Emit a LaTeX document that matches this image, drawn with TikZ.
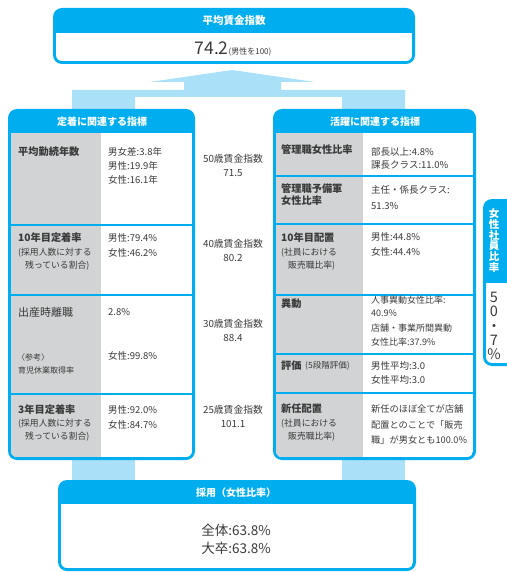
\documentclass[tikz,border=0pt]{standalone}
\usepackage{fontspec}
\setmainfont{Noto Sans CJK JP}
\definecolor{cBlue}{HTML}{00AEEF}
\definecolor{cLight}{HTML}{ABE0F9}
\definecolor{cGray}{HTML}{D1D3D4}
\definecolor{cText}{HTML}{3A3A3A}
\begin{document}
\begin{tikzpicture}[x=1pt,y=-1pt,
  hd/.style={text=white,font=\bfseries\fontsize{10}{12}\selectfont,inner sep=0},
  lbl/.style={text=cText,font=\bfseries\fontsize{10.2}{12}\selectfont,anchor=west,inner sep=0},
  val/.style={text=cText,font=\fontsize{9.5}{11}\selectfont,anchor=west,inner sep=0},
  subt/.style={text=cText,font=\fontsize{8.8}{10}\selectfont,anchor=west,inner sep=0},
  tiny/.style={text=cText,font=\fontsize{8}{9}\selectfont,anchor=west,inner sep=0},
  mid/.style={text=cText,font=\fontsize{9.8}{11}\selectfont,inner sep=0},
  sep/.style={cBlue,line width=2pt},
  outer/.style={fill=cBlue,rounded corners=9}
]
\useasboundingbox (0,0) rectangle (506,572);
% light blue arrows
\fill[cLight] (72,109) -- (72,90) -- (184,90) -- (184,82) -- (150,82) -- (232,70) -- (315,82) -- (281,82) -- (281,90) -- (405,90) -- (405,109) -- (342,109) -- (342,97) -- (135,97) -- (135,109) -- cycle;
\fill[cLight] (72,455) rectangle (135,485);
\fill[cLight] (342,455) rectangle (405,485);

% top box
\path[outer] (53,8) rectangle (415,64);
\begin{scope}
  \clip[rounded corners=6] (56,20) rectangle (412,61);
  \fill[white] (56,33) rectangle (412,61);
\end{scope}
\node[hd,font=\bfseries\fontsize{10.5}{12}\selectfont] (topt) at (234,21) {平均賃金指数};
\node[text=cText,inner sep=0] (topv) at (233,49) {{\fontsize{17.5}{18}\selectfont 74.2}{\fontsize{8}{9}\selectfont (男性を100)}};

% left box
\path[outer] (8,109) rectangle (195,460);
\begin{scope}
  \clip[rounded corners=6] (11,120) rectangle (192,457);
  \fill[white] (11,133) rectangle (192,457);
  \fill[cGray] (11,133) rectangle (101,457);
  \draw[sep] (11,225) -- (192,225);
  \draw[sep] (11,295) -- (192,295);
  \draw[sep] (11,394) -- (192,394);
\end{scope}
\node[hd] (lt) at (102,122) {定着に関連する指標};
\node[lbl] (l1) at (18,152) {平均勤続年数};
\node[val] (l1a) at (108,152) {男女差:3.8年};
\node[val] (l1b) at (108,166) {男性:19.9年};
\node[val] (l1c) at (108,180) {女性:16.1年};
\node[lbl] (l2) at (18,238) {10年目定着率};
\node[subt] (l2s) at (18,253) {(採用人数に対する};
\node[subt] (l2t) at (25,266) {残っている割合)};
\node[val] (l2a) at (108,238) {男性:79.4\%};
\node[val] (l2b) at (108,253) {女性:46.2\%};
\node[lbl,font=\fontsize{11}{12}\selectfont] (l3) at (18,312) {出産時離職};
\node[val] (l3a) at (108,312) {2.8\%};
\node[tiny] (l3s) at (17,357) {〈参考〉};
\node[tiny] (l3t) at (18,370) {育児休業取得率};
\node[val] (l3b) at (108,356) {女性:99.8\%};
\node[lbl] (l4) at (18,410) {3年目定着率};
\node[subt] (l4s) at (18,424) {(採用人数に対する};
\node[subt] (l4t) at (25,437) {残っている割合)};
\node[val] (l4a) at (108,410) {男性:92.0\%};
\node[val] (l4b) at (108,425) {女性:84.7\%};

% middle
\node[mid] (m1) at (233,159) {50歳賃金指数};
\node[mid] (m1v) at (233,173) {71.5};
\node[mid] (m2) at (233,244) {40歳賃金指数};
\node[mid] (m2v) at (233,258) {80.2};
\node[mid] (m3) at (233,324) {30歳賃金指数};
\node[mid] (m3v) at (233,338) {88.4};
\node[mid] (m4) at (233,410) {25歳賃金指数};
\node[mid] (m4v) at (233,424) {101.1};

% right box
\path[outer] (273,109) rectangle (476,460);
\begin{scope}
  \clip[rounded corners=6] (276,120) rectangle (473,457);
  \fill[white] (276,133) rectangle (473,457);
  \fill[cGray] (276,133) rectangle (363,457);
  \draw[sep] (276,176) -- (473,176);
  \draw[sep] (276,224) -- (473,224);
  \draw[sep] (276,295) -- (473,295);
  \draw[sep] (276,354) -- (473,354);
  \draw[sep] (276,393) -- (473,393);
\end{scope}
\node[hd] (rt) at (375,122) {活躍に関連する指標};
\node[lbl] (r1) at (281,150) {管理職女性比率};
\node[val] (r1a) at (371,152) {部長以上:4.8\%};
\node[val] (r1b) at (371,165) {課長クラス:11.0\%};
\node[lbl] (r2) at (281,189) {管理職予備軍};
\node[lbl] (r2b) at (281,201) {女性比率};
\node[val] (r2c) at (371,190) {主任・係長クラス:};
\node[val] (r2d) at (371,206) {51.3\%};
\node[lbl] (r3) at (281,238) {10年目配置};
\node[subt] (r3s) at (281,253) {(社員における};
\node[subt] (r3t) at (288,266) {販売職比率)};
\node[val] (r3a) at (371,237) {男性:44.8\%};
\node[val] (r3b) at (371,252) {女性:44.4\%};
\node[lbl] (r4) at (281,304) {異動};
\node[val,font=\fontsize{9}{10}\selectfont] (r4a) at (371,300) {人事異動女性比率:};
\node[val,font=\fontsize{9}{10}\selectfont] (r4b) at (371,313) {40.9\%};
\node[val,font=\fontsize{9}{10}\selectfont] (r4c) at (371,328) {店舗・事業所間異動};
\node[val,font=\fontsize{9}{10}\selectfont] (r4d) at (371,342) {女性比率:37.9\%};
\node[lbl] (r5) at (281,366) {評価};
\node[tiny,font=\fontsize{8.5}{9}\selectfont] (r5s) at (305,366) {(5段階評価)};
\node[val] (r5a) at (371,366) {男性平均:3.0};
\node[val] (r5b) at (371,380) {女性平均:3.0};
\node[lbl] (r6) at (281,409) {新任配置};
\node[subt] (r6s) at (281,424) {(社員における};
\node[subt] (r6t) at (288,437) {販売職比率)};
\node[val,font=\fontsize{9.2}{10}\selectfont] (r6a) at (371,409) {新任のほぼ全てが店舗};
\node[val,font=\fontsize{9.2}{10}\selectfont] (r6b) at (371,425) {配置とのことで「販売};
\node[val,font=\fontsize{9.2}{10}\selectfont] (r6c) at (371,440) {職」が男女とも100.0\%};

% side box
\path[outer] (483,199) rectangle (520,366);
\begin{scope}
  \clip[rounded corners=6] (486,270) rectangle (520,363);
  \fill[white] (486,283) rectangle (520,363);
\end{scope}
\node[hd,align=center,font=\bfseries\fontsize{10.5}{10.8}\selectfont] (st) at (494,240.5) {女\\性\\社\\員\\比\\率};
\node[text=cText,inner sep=0,align=center,font=\fontsize{14.5}{14.2}\selectfont] (sv) at (494,326) {5\\0\\・\\7\\\%};

% bottom box
\path[outer] (58,480) rectangle (416,571);
\begin{scope}
  \clip[rounded corners=6] (61,490) rectangle (413,568);
  \fill[white] (61,504) rectangle (413,568);
\end{scope}
\node[hd] (bt) at (236,493) {採用（女性比率）};
\node[text=cText,inner sep=0,font=\fontsize{13.5}{14}\selectfont] (b1) at (236,530) {全体:63.8\%};
\node[text=cText,inner sep=0,font=\fontsize{13.5}{14}\selectfont] (b2) at (236,548) {大卒:63.8\%};
\end{tikzpicture}
\end{document}
